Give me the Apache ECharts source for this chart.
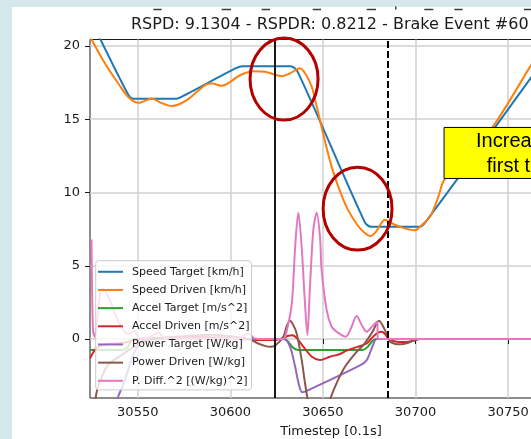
<!DOCTYPE html>
<html>
<head>
<meta charset="utf-8">
<script src="https://cdn.jsdelivr.net/npm/echarts@6/dist/echarts.min.js"></script>
<style>
  html, body { margin: 0; padding: 0; width: 531px; height: 439px; overflow: hidden; background: #d5e9ec; position: relative; }
  #card { position: absolute; left: 12px; top: 7px; width: 519px; height: 432px; background: #ffffff; }
  /* the figure is wider than the window; its right part falls outside the view */
  #chart { position: absolute; left: 0; top: 0; width: 572px; height: 439px; }
</style>
</head>
<body>
<div id="card"></div>
<div id="chart"></div>
<script>
// ---- data: [timestep, value] samples for each channel ----
const speedTarget = [
  [30522, 22.5], [30544.5, 16.75], [30547.5, 16.4], [30571, 16.4], [30575, 16.62],
  [30603, 18.48], [30606.5, 18.62], [30632.5, 18.62], [30636.5, 18.2], [30672.5, 8.0],
  [30676, 7.66], [30702, 7.66], [30705.5, 8.0], [30765, 18.3]
];
const speedDriven = [
  [30522, 21.3], [30525.2, 20.4], [30532.3, 18.8], [30539.5, 17.44], [30545, 16.5],
  [30550.5, 16.12], [30557.6, 16.42], [30562.5, 16.12], [30568.4, 15.9], [30576.5, 16.3],
  [30586.3, 17.33], [30590, 17.44], [30595.4, 17.28], [30605.2, 18.0], [30612.3, 18.28],
  [30618.8, 18.24], [30627.7, 17.94], [30632.5, 18.15], [30637.6, 18.47], [30641, 18.0],
  [30644, 17.2], [30646, 16.2], [30648.4, 14.94], [30651.1, 13.5], [30654.7, 11.75],
  [30659.2, 10.1], [30663.2, 8.9], [30668.2, 7.85], [30672, 7.3], [30675.4, 7.03],
  [30678.5, 7.3], [30683.5, 8.15], [30686.5, 7.95], [30691.6, 7.66], [30699.5, 7.42],
  [30703.5, 7.8], [30707.8, 8.34], [30712.3, 9.7], [30715, 10.75], [30722, 11.9],
  [30730, 13.0], [30741.1, 14.37], [30762.4, 18.69], [30766, 19.4]
];
const accelTarget = [
  [30524.3, -0.75], [30541.5, -0.75], [30544.5, -0.55], [30546.5, -0.1], [30548, 0],
  [30629, 0], [30631, -0.15], [30634, -0.6], [30637, -0.75], [30671.5, -0.75],
  [30674, -0.55], [30677, -0.1], [30679, 0], [30786, 0]
];
const accelDriven = [
  [30524.3, -1.3], [30526, -0.9], [30528, -0.6], [30531, -0.42], [30536, -0.3],
  [30542, -0.25], [30548, -0.1], [30556, 0.05], [30566, 0.1], [30580, 0.15],
  [30595, 0.1], [30605, 0.0], [30615, -0.07], [30624, -0.06], [30628, 0.05],
  [30631.3, 0.23], [30633.5, 0.26], [30636, 0.05], [30639.4, -0.52], [30644, -1.2],
  [30648.4, -1.43], [30653.8, -1.2], [30659.2, -1.02], [30662.8, -0.78], [30668.2, -0.55],
  [30673.6, -0.3], [30677, 0.15], [30679.5, 0.42], [30681.7, 0.5], [30683.5, 0.35],
  [30685.3, 0.05], [30689.8, -0.18], [30695, -0.2], [30699.5, -0.08], [30702, 0], [30786, 0]
];
const powerTarget = [
  [30524.3, -9.0], [30534, -6.0], [30539.5, -3.9], [30543.1, -2.8], [30546, -1.6],
  [30549, -0.7], [30552, -0.2], [30556, 0], [30629, 0], [30632.2, -0.52],
  [30635, -1.89], [30636.8, -3.0], [30638.8, -3.62], [30641, -3.55], [30670, -1.8],
  [30673.6, -1.45], [30677.2, -0.35], [30679, 0], [30786, 0]
];
const powerDriven = [
  [30524.3, -9.0], [30526, -6.0], [30527.5, -3.8], [30529.5, -2.9], [30534, -1.75],
  [30540, -1.2], [30547, -0.6], [30554, -0.15], [30560, 0.05], [30575, 0.2],
  [30590, 0.3], [30603, 0.15], [30610, 0], [30615, -0.3], [30619, -0.48],
  [30621.5, -0.52], [30624.1, -0.45], [30628.6, 0.16], [30630.5, 0.9], [30632.2, 1.25],
  [30634, 0.95], [30635.8, 0.39], [30638.5, -1.4], [30640.3, -3.0], [30642, -4.3],
  [30645, -6.0], [30650, -6.2], [30653.8, -4.16], [30657.4, -3.0], [30661.9, -1.89],
  [30668.2, -0.87], [30671.8, -0.41], [30675, 0.15], [30677.2, 0.61], [30680.3, 1.25],
  [30683.5, 0.61], [30686.2, -0.18], [30689, -0.33], [30692, -0.36], [30696, -0.25],
  [30699.7, -0.07], [30702, 0], [30786, 0]
];
const powerDiffSq = [
  [30525, 6.8], [30525.8, 0.6], [30526.8, 0.15], [30528, 1.2], [30530, 3.35],
  [30531.5, 3.4], [30534, 2.9], [30536, 2.3], [30539.5, 1.2], [30543, 0.5],
  [30545.5, 0.35], [30548, 0.55], [30551, 0.08], [30556, 0.12], [30561, 0.45],
  [30565, 0.05], [30570, 0.02], [30600, 0.02], [30606, 0.1], [30609.5, 0.42],
  [30613, 0.05], [30617, 0], [30628.5, 0], [30630.5, 0.6], [30633.2, 2.43],
  [30635, 6.3], [30636.7, 8.62], [30638.5, 6.3], [30640.3, 2.43], [30641.6, 0.27],
  [30643, 3.57], [30644.8, 7.44], [30646.6, 8.62], [30648.4, 6.98], [30649.3, 4.7],
  [30652, 1.98], [30654.7, 0.84], [30657.4, 0.5], [30662.3, 0.16], [30665, 0.7],
  [30668.2, 1.57], [30670.8, 1.0], [30673.6, 0.5], [30676.5, 0.85], [30679.3, 1.2],
  [30679.7, 0.02], [30682, 0], [30786, 0]
];

const seriesNames = [
  'Speed Target [km/h]', 'Speed Driven [km/h]', 'Accel Target [m/s^2]', 'Accel Driven [m/s^2]',
  'Power Target [W/kg]', 'Power Driven [W/kg]', 'P. Diff.^2 [(W/kg)^2]'
];
const seriesData = [speedTarget, speedDriven, accelTarget, accelDriven, powerTarget, powerDriven, powerDiffSq];

const xTicks = [30550, 30600, 30650, 30700, 30750];
const yTicks = [0, 5, 10, 15, 20];

const brakeStart = 30624.1;   // solid marker
const brakeEnd = 30685;       // dashed marker

const titleText = 'RSPD: 9.1304 - RSPDR: 0.8212 - Brake Event #60';
const noteLines = ['Increased', 'first then'];

// highlighted regions, centre and half-extents in axis units
const rings = [
  { x: 30629.0, y: 17.74, rx: 18.36, ry: 2.80 },
  { x: 30668.7, y: 8.90, rx: 18.6, ry: 2.83 }
];
const noteAnchor = { x: 30715.4, y: 14.44 };

// ---- chart ----
const X_MIN = 30524.2, X_MAX = 30784.5, Y_MIN = -4.02, Y_MAX = 20.44;
const palette = ['#1f77b4', '#ff7f0e', '#2ca02c', '#d62728', '#9467bd', '#8c564b', '#e377c2'];
const FONT = "'DejaVu Sans', sans-serif";
const INK = '#1a1a1a';

const chart = echarts.init(document.getElementById('chart'), null, { renderer: 'canvas' });

const series = seriesData.map((d, i) => ({
  name: seriesNames[i],
  type: 'line',
  data: d,
  showSymbol: false,
  symbol: 'none',
  smooth: 0.3,
  clip: true,
  lineStyle: { width: 2, color: palette[i] },
  itemStyle: { color: palette[i] },
  emphasis: { disabled: true },
  silent: true
}));

series[0].markLine = {
  silent: true,
  symbol: ['none', 'none'],
  label: { show: false },
  emphasis: { disabled: true },
  data: [
    { xAxis: brakeStart, lineStyle: { color: '#000', width: 1.8, type: 'solid' } },
    { xAxis: brakeEnd, lineStyle: { color: '#000', width: 2, type: [7, 3] } }
  ]
};

const tickFmt = (step) => (v) => (Math.abs(v / step - Math.round(v / step)) < 1e-6 ? String(Math.round(v)) : '');

chart.setOption({
  animation: false,
  color: palette,
  title: {
    text: titleText,
    left: 131,
    top: 17,
    padding: 0,
    textStyle: { fontFamily: FONT, fontSize: 16, fontWeight: 'normal', color: INK }
  },
  grid: {
    left: 90, right: 0, top: 39.5, bottom: 41,
    outerBoundsMode: 'none',
    containLabel: false,
    show: true, borderColor: INK, borderWidth: 1, backgroundColor: 'transparent'
  },
  xAxis: {
    type: 'value', min: X_MIN, max: X_MAX,
    name: 'Timestep [0.1s]', nameLocation: 'middle', nameGap: 27,
    nameTextStyle: { fontFamily: FONT, fontSize: 13, color: INK },
    axisLine: { show: false },
    axisTick: { show: true, length: 5, customValues: xTicks, lineStyle: { color: INK, width: 1 } },
    axisLabel: { customValues: xTicks, formatter: tickFmt(50), margin: 8, fontFamily: FONT, fontSize: 13, color: INK },
    splitLine: { show: true, lineStyle: { color: '#d0d0d0', width: 1.5 } }
  },
  yAxis: {
    type: 'value', min: Y_MIN, max: Y_MAX,
    axisLine: { show: false },
    axisTick: { show: true, length: 5, customValues: yTicks, lineStyle: { color: INK, width: 1 } },
    axisLabel: { customValues: yTicks, formatter: tickFmt(5), margin: 10, fontFamily: FONT, fontSize: 13, color: INK },
    splitLine: { show: true, lineStyle: { color: '#d0d0d0', width: 1.5 } }
  },
  legend: {
    data: seriesNames,
    orient: 'vertical',
    left: 95.7, top: 260.7,
    icon: 'rect', itemWidth: 25, itemHeight: 2, itemGap: 0,
    padding: [2, 2, 0, 2.3],
    backgroundColor: 'rgba(255,255,255,0.8)',
    borderColor: '#cccccc', borderWidth: 1, borderRadius: 3,
    selectedMode: false,
    textStyle: { fontFamily: FONT, fontSize: 11, color: INK, lineHeight: 18.17, padding: [0, 0, 0, 4] }
  },
  series: series
});

// ---- annotations placed from axis coordinates ----
const toPx = (x, y) => chart.convertToPixel({ gridIndex: 0 }, [x, y]);

const graphics = [];
rings.forEach((r, i) => {
  const c = toPx(r.x, r.y);
  const ex = toPx(r.x + r.rx, r.y);
  const ey = toPx(r.x, r.y + r.ry);
  graphics.push({
    type: 'ellipse', id: 'ring' + i, z: 100, silent: true,
    shape: { cx: c[0], cy: c[1], rx: Math.abs(ex[0] - c[0]), ry: Math.abs(c[1] - ey[1]) },
    style: { fill: 'none', stroke: '#b30000', lineWidth: 3 }
  });
});

const NOTE_FONT = "20px 'Liberation Sans', Arial, sans-serif";
const na = toPx(noteAnchor.x, noteAnchor.y);
graphics.push({
  type: 'group', id: 'note', x: na[0], y: na[1], z: 100, silent: true,
  children: [
    { type: 'rect', z: 100, shape: { x: 0, y: 0, width: 220, height: 51 },
      style: { fill: '#ffff00', stroke: '#000', lineWidth: 1 } },
    { type: 'text', z: 101, x: 32, y: 14.3,
      style: { text: noteLines[0], font: NOTE_FONT, fill: '#000', textAlign: 'left', textVerticalAlign: 'middle' } },
    { type: 'text', z: 101, x: 42.7, y: 39.3,
      style: { text: noteLines[1], font: NOTE_FONT, fill: '#000', textAlign: 'left', textVerticalAlign: 'middle' } }
  ]
});

// fragments of the clipped heading line above the plot
const topStrokes = [[153.3, 161.7], [221.7, 231], [261.7, 270], [312.7, 321], [366.7, 376], [424.3, 433.3], [454.3, 462.7], [524, 531]];
topStrokes.forEach((s, i) => {
  graphics.push({
    type: 'line', id: 'frag' + i, z: 100, silent: true,
    shape: { x1: s[0], y1: 9.5, x2: s[1], y2: 9.5 },
    style: { stroke: '#3a3a3a', lineWidth: 1.5 }
  });
});
graphics.push({
  type: 'line', id: 'fragTick', z: 100, silent: true,
  shape: { x1: 395.8, y1: 6.5, x2: 395.8, y2: 9.5 },
  style: { stroke: '#3a3a3a', lineWidth: 1.5 }
});

chart.setOption({ graphic: graphics });
</script>
</body>
</html>
